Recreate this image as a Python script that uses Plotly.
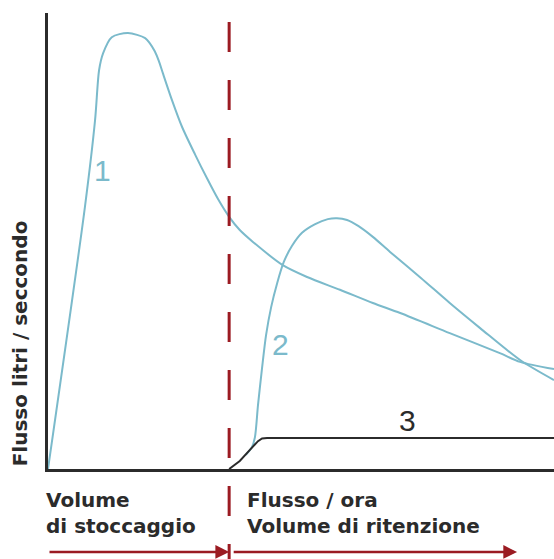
import plotly.graph_objects as go

# ---- data (x: 0..10 along the flow axis, y: 0..100 flow) ----
curve1_x = [0.0, 0.73, 0.93, 1.01, 1.09, 1.26, 1.58, 1.92, 2.01, 2.11, 2.19, 2.27, 2.45,
            2.65, 2.91, 3.14, 3.36, 3.58, 3.79, 4.05, 4.64, 5.12, 5.77, 6.42, 6.96, 7.94,
            8.93, 9.33, 10.0]
curve1_y = [0.0, 57.5, 76.5, 87.5, 91.2, 94.7, 95.6, 94.5, 93.4, 91.6, 89.5, 86.8, 80.9,
            75.0, 68.9, 63.8, 59.2, 55.3, 52.4, 49.8, 44.7, 42.1, 39.3, 36.4, 34.2, 29.8,
            25.4, 23.5, 21.9]

curve2_x = [3.91, 4.03, 4.09, 4.15, 4.23, 4.31, 4.41, 4.53, 4.66, 4.82, 5.02, 5.28, 5.53,
            5.71, 5.91, 6.13, 6.42, 6.76, 7.37, 7.94, 8.54, 9.33, 10.0]
curve2_y = [3.1, 4.8, 7.0, 14.0, 22.1, 29.4, 35.5, 40.8, 45.4, 48.9, 51.8, 53.7, 54.8,
            55.0, 54.6, 53.3, 50.9, 47.6, 41.9, 36.4, 30.9, 23.9, 19.5]

curve3_x = [3.58, 3.79, 3.99, 4.15, 4.23, 4.33, 10.0]
curve3_y = [0.0, 1.75, 4.2, 6.1, 6.7, 6.8, 6.8]

curve_labels = ["1", "2", "3"]
label_x = [1.07, 4.60, 7.11]
label_y = [65.4, 27.2, 10.7]

divider_x = 3.58
x_min, x_max = 0.0, 10.0
y_min, y_max = 0.0, 100.0

y_title = "Flusso litri / seccondo"
left_label = "Volume<br>di stoccaggio"
right_label = "Flusso / ora<br>Volume di ritenzione"

BLUE = "#7BBACB"
DARK = "#2b2b2b"
RED = "#9B1B22"


def to_paper_x(v):
    return (v - x_min) / (x_max - x_min)


fig = go.Figure()
fig.add_trace(go.Scatter(x=curve1_x, y=curve1_y, mode="lines",
                         line=dict(color=BLUE, width=2, shape="spline", smoothing=0.8),
                         hoverinfo="skip"))
fig.add_trace(go.Scatter(x=curve2_x, y=curve2_y, mode="lines",
                         line=dict(color=BLUE, width=2, shape="spline", smoothing=0.8),
                         hoverinfo="skip"))
fig.add_trace(go.Scatter(x=curve3_x, y=curve3_y, mode="lines",
                         line=dict(color=DARK, width=2),
                         hoverinfo="skip"))

for t, lx, ly, c in zip(curve_labels, label_x, label_y, [BLUE, BLUE, DARK]):
    fig.add_annotation(x=lx, y=ly, xref="x", yref="y", text=t, showarrow=False,
                       font=dict(family="Liberation Sans", size=30, color=c))

# divider dashed line (extends below the plot)
div_paper = to_paper_x(divider_x)
fig.add_shape(type="line", xref="paper", yref="paper",
              x0=div_paper, x1=div_paper, y0=0.980, y1=-0.20,
              line=dict(color=RED, width=3, dash="30px,28px"), layer="above")

# bottom labels
fig.add_annotation(x=-0.008, y=-0.037, xref="paper", yref="paper", text=left_label,
                   showarrow=False, xanchor="left", yanchor="top", align="left",
                   font=dict(family="DejaVu Sans", size=20, color=DARK, weight="bold"))
fig.add_annotation(x=0.389, y=-0.037, xref="paper", yref="paper", text=right_label,
                   showarrow=False, xanchor="left", yanchor="top", align="left",
                   font=dict(family="DejaVu Sans", size=20, color=DARK, weight="bold"))

# arrows
fig.add_annotation(x=divider_x, y=-0.182, xref="x", yref="paper",
                   ax=0.0, ay=0, axref="x", ayref="pixel", text="",
                   showarrow=True, arrowhead=2, arrowsize=1.1, arrowwidth=2.5,
                   arrowcolor=RED)
fig.add_annotation(x=9.27, y=-0.182, xref="x", yref="paper",
                   ax=3.64, ay=0, axref="x", ayref="pixel", text="",
                   showarrow=True, arrowhead=2, arrowsize=1.1, arrowwidth=2.5,
                   arrowcolor=RED)

# y axis title
fig.add_annotation(x=-0.055, y=0.276, xref="paper", yref="paper", text=y_title,
                   showarrow=False, textangle=-90, xanchor="center", yanchor="middle",
                   font=dict(family="DejaVu Sans", size=20, color=DARK, weight="bold"))

fig.update_layout(
    width=554, height=559,
    margin=dict(l=48, r=0, t=13, b=90),
    paper_bgcolor="white", plot_bgcolor="white",
    showlegend=False,
    xaxis=dict(range=[x_min, x_max], showgrid=False, zeroline=False, showticklabels=False,
               ticks="", showline=True, linecolor=DARK, linewidth=2.5),
    yaxis=dict(range=[y_min, y_max], showgrid=False, zeroline=False, showticklabels=False,
               ticks="", showline=True, linecolor=DARK, linewidth=2.5),
)

fig.write_html("out.html", config={"displayModeBar": False},
               post_script="document.body.style.margin='0';document.body.style.overflow='hidden';")
